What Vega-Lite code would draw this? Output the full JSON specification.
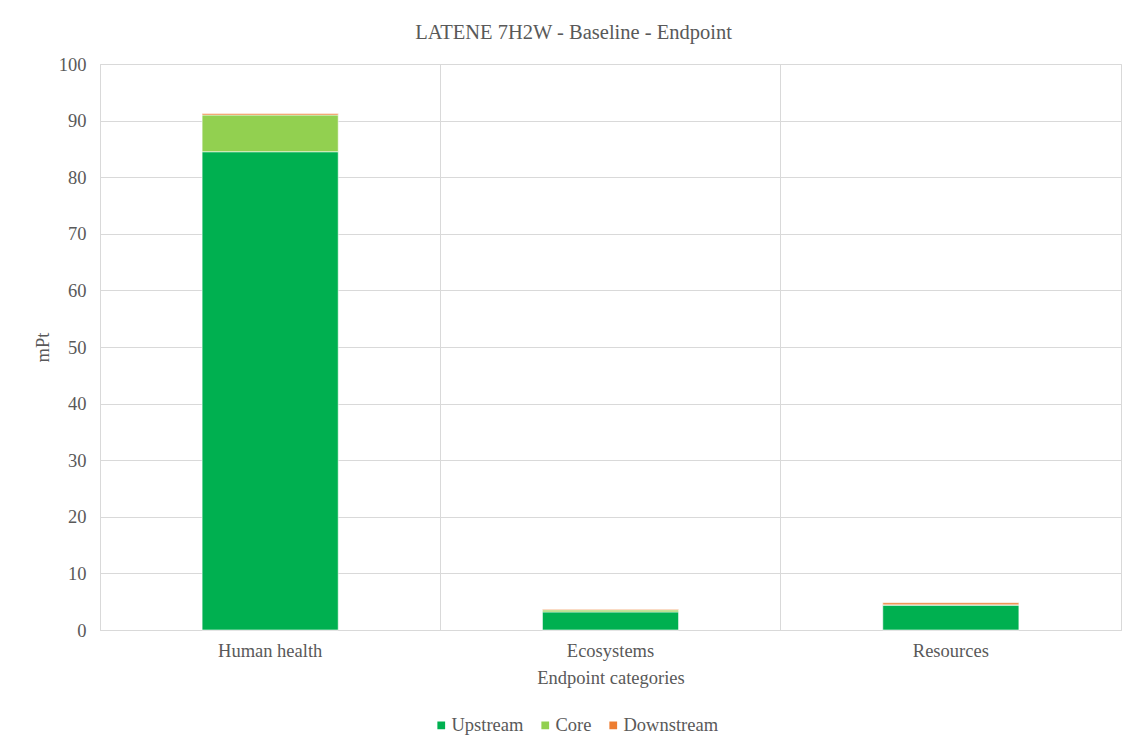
{
  "$schema": "https://vega.github.io/schema/vega-lite/v6.json",
  "width": 1021,
  "height": 566,
  "autosize": "none",
  "padding": {"left": 100, "top": 64, "right": 16, "bottom": 119},
  "background": "white",
  "title": {
    "text": "LATENE 7H2W - Baseline - Endpoint",
    "fontSize": 20.5,
    "fontWeight": "normal",
    "color": "#595959",
    "anchor": "middle",
    "dx": -37,
    "offset": 12
  },
  "data": {
    "values": [
      {"category": "Human health", "stage": "Upstream", "rank": 1, "value": 84.5},
      {"category": "Human health", "stage": "Core", "rank": 2, "value": 6.5},
      {"category": "Human health", "stage": "Downstream", "rank": 3, "value": 0.25},
      {"category": "Ecosystems", "stage": "Upstream", "rank": 1, "value": 3.2},
      {"category": "Ecosystems", "stage": "Core", "rank": 2, "value": 0.35},
      {"category": "Ecosystems", "stage": "Downstream", "rank": 3, "value": 0.12},
      {"category": "Resources", "stage": "Upstream", "rank": 1, "value": 4.4},
      {"category": "Resources", "stage": "Core", "rank": 2, "value": 0.05},
      {"category": "Resources", "stage": "Downstream", "rank": 3, "value": 0.35}
    ]
  },
  "layer": [
    {
      "mark": {"type": "bar", "opacity": 0},
      "encoding": {
        "x": {
          "field": "category",
          "type": "nominal",
          "sort": ["Human health", "Ecosystems", "Resources"],
          "scale": {"paddingInner": 0.6, "paddingOuter": 0.3},
          "axis": {
            "orient": "top",
            "title": null,
            "labels": false,
            "ticks": false,
            "domain": false,
            "grid": true,
            "bandPosition": -0.75,
            "gridColor": "#d9d9d9",
            "gridWidth": 1
          }
        },
        "y": {
          "field": "value",
          "type": "quantitative",
          "aggregate": "sum",
          "stack": "zero"
        },
        "detail": {"field": "stage"}
      }
    },
    {
      "mark": {"type": "bar", "stroke": "white", "strokeWidth": 0.6},
      "encoding": {
        "x": {
          "field": "category",
          "type": "nominal",
          "sort": ["Human health", "Ecosystems", "Resources"],
          "axis": {
            "orient": "bottom",
            "title": "Endpoint categories",
            "labelAngle": 0,
            "labelFontSize": 18.5,
            "labelColor": "#595959",
            "labelPadding": 11,
            "titleFontSize": 18.5,
            "titleFontWeight": "normal",
            "titleColor": "#595959",
            "titlePadding": 9,
            "ticks": false,
            "grid": false,
            "domainColor": "#d9d9d9",
            "domainWidth": 1
          }
        },
        "y": {
          "field": "value",
          "type": "quantitative",
          "aggregate": "sum",
          "stack": "zero",
          "scale": {"domain": [0, 100], "nice": false},
          "axis": {
            "title": "mPt",
            "values": [0, 10, 20, 30, 40, 50, 60, 70, 80, 90, 100],
            "labelFontSize": 18.5,
            "labelColor": "#595959",
            "labelPadding": 14,
            "titleFontSize": 18.5,
            "titleFontWeight": "normal",
            "titleColor": "#595959",
            "titlePadding": 6,
            "ticks": false,
            "domain": false,
            "gridColor": "#d9d9d9",
            "gridWidth": 1
          }
        },
        "color": {
          "field": "stage",
          "type": "nominal",
          "sort": ["Upstream", "Core", "Downstream"],
          "scale": {
            "domain": ["Upstream", "Core", "Downstream"],
            "range": ["#00B050", "#92D050", "#ED7D31"]
          },
          "legend": {
            "title": null,
            "orient": "none",
            "direction": "horizontal",
            "legendX": 332,
            "legendY": 652,
            "symbolType": "square",
            "symbolSize": 60,
            "symbolStrokeWidth": 0,
            "labelFontSize": 18.5,
            "labelColor": "#595959",
            "labelOffset": 1,
            "columnPadding": 12
          }
        },
        "order": {"field": "rank", "type": "quantitative"}
      }
    }
  ],
  "resolve": {"axis": {"x": "independent"}},
  "config": {
    "font": "Liberation Serif",
    "view": {"stroke": "#d9d9d9", "strokeWidth": 1}
  }
}
